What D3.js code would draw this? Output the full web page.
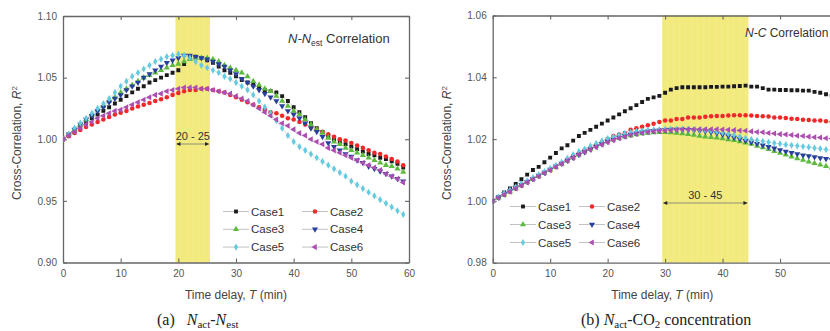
<!DOCTYPE html>
<html><head><meta charset="utf-8">
<script src="https://cdn.jsdelivr.net/npm/d3@7"></script>
<style>body{margin:0;background:#fff} svg{display:block} text{font-family:"Liberation Sans",Arial,sans-serif}</style>
</head><body><svg id="c" width="830" height="331"></svg>
<script>
// ---------- data ----------
const times = [0,1,2,3,4,5,6,7,8,9,10,11,12,13,14,15,16,17,18,19,20,21,22,23,24,25,26,27,28,29,
  30,31,32,33,34,35,36,37,38,39,40,41,42,43,44,45,46,47,48,49,50,51,52,53,54,55,56,57,58,59];
const caseNames = ["Case1","Case2","Case3","Case4","Case5","Case6"];

// (a) N-Nest
const leftCase1 = [1.000,1.003,1.006,1.010,1.013,1.017,1.020,1.023,1.026,1.029,
 1.032,1.035,1.038,1.041,1.043,1.046,1.048,1.050,1.052,1.054,
 1.056,1.061,1.066,1.067,1.066,1.064,1.062,1.059,1.056,1.054,
 1.051,1.048,1.046,1.044,1.042,1.040,1.039,1.038,1.035,1.031,
 1.026,1.022,1.018,1.013,1.009,1.006,1.002,1.000,0.998,0.996,
 0.994,0.992,0.990,0.988,0.987,0.985,0.984,0.982,0.980,0.977];
const leftCase2 = [1.000,1.0025,1.005,1.0075,1.010,1.012,1.014,1.016,1.018,1.020,
 1.0215,1.023,1.025,1.0265,1.028,1.0295,1.031,1.0325,1.034,1.036,
 1.0375,1.039,1.040,1.040,1.041,1.041,1.040,1.039,1.038,1.036,
 1.034,1.032,1.030,1.028,1.026,1.024,1.022,1.021,1.019,1.017,
 1.016,1.014,1.012,1.010,1.008,1.006,1.004,1.002,1.000,0.999,
 0.997,0.995,0.993,0.991,0.989,0.988,0.986,0.984,0.982,0.979];
const leftCase3 = [1.000,1.004,1.008,1.012,1.016,1.020,1.024,1.027,1.031,1.034,
 1.038,1.041,1.044,1.047,1.050,1.052,1.054,1.056,1.058,1.060,
 1.061,1.063,1.065,1.066,1.066,1.066,1.065,1.063,1.060,1.058,
 1.056,1.054,1.051,1.047,1.044,1.041,1.039,1.035,1.031,1.027,
 1.023,1.020,1.016,1.012,1.008,1.005,1.001,0.998,0.996,0.993,
 0.991,0.989,0.987,0.985,0.983,0.981,0.979,0.978,0.976,0.9735];
const leftCase4 = [1.000,1.004,1.008,1.012,1.016,1.019,1.023,1.026,1.030,1.033,
 1.036,1.040,1.043,1.046,1.050,1.053,1.056,1.059,1.062,1.064,
 1.066,1.068,1.068,1.067,1.066,1.065,1.063,1.061,1.059,1.056,
 1.053,1.049,1.046,1.043,1.040,1.037,1.034,1.031,1.027,1.023,
 1.020,1.017,1.013,1.009,1.006,1.002,0.997,0.994,0.991,0.988,
 0.986,0.983,0.981,0.978,0.976,0.974,0.972,0.970,0.968,0.966];
const leftCase5 = [1.000,1.004,1.009,1.013,1.017,1.021,1.025,1.029,1.033,1.038,
 1.043,1.047,1.051,1.054,1.057,1.060,1.063,1.065,1.067,1.068,
 1.069,1.068,1.066,1.063,1.060,1.058,1.056,1.054,1.051,1.049,
 1.046,1.043,1.040,1.036,1.031,1.026,1.021,1.015,1.009,1.003,
 0.998,0.994,0.991,0.988,0.985,0.982,0.979,0.976,0.973,0.970,
 0.966,0.963,0.960,0.957,0.954,0.951,0.948,0.945,0.942,0.939];
const leftCase6 = [1.000,1.003,1.006,1.009,1.012,1.014,1.017,1.019,1.021,1.023,
 1.024,1.026,1.028,1.030,1.032,1.034,1.036,1.037,1.039,1.040,
 1.041,1.042,1.042,1.042,1.041,1.041,1.040,1.039,1.038,1.037,
 1.035,1.033,1.031,1.028,1.025,1.022,1.019,1.016,1.013,1.011,
 1.008,1.005,1.003,1.000,0.998,0.996,0.993,0.991,0.989,0.987,
 0.985,0.983,0.981,0.979,0.977,0.975,0.972,0.970,0.968,0.965];

// (b) N-CO2
const rightCase1 = [1.000,1.0013,1.0027,1.004,1.0055,1.007,1.0085,1.010,1.011,1.0125,
 1.014,1.0155,1.017,1.018,1.0195,1.021,1.022,1.023,1.024,1.025,
 1.026,1.027,1.028,1.029,1.030,1.031,1.032,1.033,1.0335,1.034,
 1.035,1.036,1.0365,1.0368,1.0368,1.0368,1.0368,1.0368,1.0369,1.0369,
 1.037,1.037,1.0371,1.0372,1.0373,1.037,1.037,1.0365,1.036,1.036,
 1.0359,1.0359,1.0358,1.0358,1.0357,1.0357,1.0353,1.035,1.0345,1.034];
const rightCase2 = [1.000,1.001,1.002,1.003,1.004,1.005,1.006,1.007,1.008,1.009,
 1.010,1.011,1.012,1.0135,1.0145,1.0155,1.0165,1.017,1.018,1.019,
 1.020,1.021,1.0215,1.022,1.023,1.0235,1.024,1.0245,1.025,1.0255,
 1.026,1.026,1.0265,1.0265,1.027,1.027,1.027,1.0272,1.0274,1.0275,
 1.0275,1.0276,1.0277,1.0277,1.0277,1.0276,1.0275,1.0274,1.0273,1.027,
 1.027,1.0268,1.0266,1.0265,1.0263,1.0262,1.026,1.026,1.0258,1.0256];
const rightCase3 = [1.000,1.001,1.002,1.003,1.004,1.005,1.006,1.007,1.008,1.009,
 1.010,1.011,1.012,1.013,1.014,1.015,1.0159,1.0168,1.0177,1.0185,
 1.0192,1.0198,1.0203,1.0208,1.0212,1.0215,1.0218,1.022,1.0221,1.0222,
 1.0222,1.0221,1.022,1.0218,1.0216,1.0213,1.021,1.0208,1.0206,1.0204,
 1.0202,1.0199,1.0196,1.0192,1.0188,1.0184,1.0178,1.0173,1.0167,1.0161,
 1.0155,1.0149,1.0143,1.0137,1.0132,1.0127,1.0122,1.0117,1.0112,1.0107];
const rightCase4 = [1.000,1.0011,1.0022,1.0032,1.0042,1.0052,1.0062,1.0072,1.0082,1.0092,
 1.0102,1.0112,1.0121,1.0131,1.014,1.0149,1.0158,1.0167,1.0176,1.0184,
 1.0192,1.0199,1.0205,1.021,1.0215,1.0219,1.0222,1.0225,1.0227,1.0229,
 1.023,1.0231,1.0231,1.0231,1.023,1.0229,1.0227,1.0225,1.0222,1.0219,
 1.0215,1.021,1.0205,1.02,1.0195,1.019,1.0185,1.018,1.0175,1.017,
 1.0165,1.016,1.0156,1.0152,1.0148,1.0145,1.0142,1.0139,1.0136,1.0133];
const rightCase5 = [1.000,1.0013,1.0025,1.0035,1.0045,1.0055,1.0065,1.0075,1.0085,1.0095,
 1.0105,1.0115,1.0125,1.0138,1.015,1.016,1.0168,1.0178,1.0186,1.0194,
 1.0202,1.0208,1.0213,1.0218,1.0222,1.0225,1.0227,1.0229,1.023,1.0231,
 1.0232,1.0232,1.0232,1.0232,1.0232,1.0231,1.023,1.0229,1.0227,1.0224,
 1.0221,1.0217,1.0213,1.0208,1.0203,1.0199,1.0196,1.0193,1.019,1.0187,
 1.0185,1.0182,1.018,1.0178,1.0176,1.0174,1.0171,1.0169,1.0166,1.0164];
const rightCase6 = [1.000,1.001,1.002,1.003,1.004,1.005,1.006,1.007,1.008,1.009,
 1.010,1.011,1.012,1.013,1.014,1.015,1.0158,1.0166,1.0174,1.0182,
 1.019,1.0197,1.0203,1.0208,1.0213,1.0217,1.022,1.0223,1.0225,1.0227,
 1.0228,1.0229,1.023,1.0231,1.0232,1.0232,1.0232,1.0232,1.0232,1.0232,
 1.0231,1.023,1.0229,1.0228,1.0227,1.0225,1.0223,1.0222,1.022,1.0218,
 1.0216,1.0215,1.0213,1.0211,1.021,1.0208,1.0206,1.0205,1.0203,1.0202];

const xTicks = [0,10,20,30,40,50,60];
const leftYTicks = [0.90,0.95,1.00,1.05,1.10];
const rightYTicks = [0.98,1.00,1.02,1.04,1.06];
const leftBand = [19.5,25.5], leftBandLabel = "20 - 25";
const rightBand = [29.5,44.5], rightBandLabel = "30 - 45";

// ---------- styling ----------
const caseColors = ["#1b1b1b","#f02828","#5cbb3c","#28409c","#62cbdf","#ad4db2"];
const caseSymbols = [
  {t:d3.symbolSquare, s:15, r:0},
  {t:d3.symbolCircle, s:16, r:0},
  {t:d3.symbolTriangle, s:16, r:0},
  {t:d3.symbolTriangle, s:16, r:180},
  {t:d3.symbolDiamond, s:15, r:0},
  {t:d3.symbolTriangle, s:16, r:-90}
];

const svg = d3.select("#c");
const defs = svg.append("defs");
defs.append("marker").attr("id","ah").attr("viewBox","0 0 10 10").attr("refX",10).attr("refY",5)
  .attr("markerWidth",7).attr("markerHeight",5).attr("orient","auto-start-reverse")
  .append("path").attr("d","M0,0L10,5L0,10z").attr("fill","#222");

function panel(cfg){
  const x = d3.scaleLinear().domain([0,60]).range(cfg.xr);
  const y = d3.scaleLinear().domain(cfg.yd).range(cfg.yr);
  const g = svg.append("g");
  const clipId = "clip"+cfg.id;
  defs.append("clipPath").attr("id",clipId).append("rect")
    .attr("x",cfg.xr[0]).attr("y",cfg.yr[1]-4).attr("width",cfg.xr[1]-cfg.xr[0]).attr("height",cfg.yr[0]-cfg.yr[1]+8);
  // band
  const bx0 = x(cfg.band[0]), bx1 = x(cfg.band[1]);
  g.append("rect").attr("x",bx0).attr("y",cfg.yr[1]).attr("width",bx1-bx0).attr("height",cfg.yr[0]-cfg.yr[1])
    .attr("fill","#f3ea7e");
  const stripes = d3.range(cfg.band[0]+0.9, cfg.band[1]-0.3, 1.05);
  g.selectAll(".st").data(stripes).join("line")
    .attr("x1",d=>x(d)).attr("x2",d=>x(d)).attr("y1",cfg.yr[1]).attr("y2",cfg.yr[0])
    .attr("stroke","#fff").attr("stroke-opacity",0.15).attr("stroke-width",0.7);
  // axes
  const ax = (a)=>a.tickSizeOuter(0).tickSizeInner(-4);
  const labelTicks = xTicks.filter(v=>x(v)<=cfg.xVisMax);
  const bottom = g.append("g").attr("transform",`translate(0,${cfg.yr[0]})`)
    .call(ax(d3.axisBottom(x).tickValues(labelTicks).tickFormat(d3.format("d")).tickPadding(7)));
  const top = g.append("g").attr("transform",`translate(0,${cfg.yr[1]})`)
    .call(ax(d3.axisTop(x).tickValues(labelTicks).tickFormat("")));
  const left = g.append("g").attr("transform",`translate(${cfg.xr[0]},0)`)
    .call(ax(d3.axisLeft(y).tickValues(cfg.yTicks).tickFormat(d3.format(".2f")).tickPadding(6)));
  const right = g.append("g").attr("transform",`translate(${cfg.xr[1]},0)`)
    .call(ax(d3.axisRight(y).tickValues(cfg.yTicks).tickFormat("")));
  [bottom,top,left,right].forEach(a=>{
    a.select(".domain").attr("stroke","#666").attr("stroke-width",1.3);
    a.selectAll(".tick line").attr("stroke","#666").attr("stroke-width",1.1);
    a.selectAll("text").attr("fill","#555").style("font-size","10px").style("font-family","Liberation Sans, Arial, sans-serif");
  });
  // series
  const sg = g.append("g").attr("clip-path",`url(#${clipId})`);
  const line = d3.line().x((d,i)=>x(times[i])).y(d=>y(d));
  cfg.series.forEach((vals,k)=>{
    sg.append("path").attr("d",line(vals)).attr("fill","none").attr("stroke","#cfcfcf").attr("stroke-width",0.8);
  });
  cfg.series.forEach((vals,k)=>{
    const sym = d3.symbol().type(caseSymbols[k].t).size(caseSymbols[k].s);
    sg.selectAll(".m"+k).data(vals).join("path")
      .attr("d",sym).attr("fill",caseColors[k])
      .attr("transform",(d,i)=>`translate(${x(times[i])},${y(d)}) rotate(${caseSymbols[k].r})`);
  });
  // band annotation
  g.append("text").attr("x",(bx0+bx1)/2).attr("y",cfg.annY).attr("text-anchor","middle")
    .style("font-size","11px").attr("fill","#333").text(cfg.bandLabel);
  g.append("line").attr("x1",bx0+1).attr("x2",bx1-1).attr("y1",cfg.annY+4).attr("y2",cfg.annY+4)
    .attr("stroke","#777").attr("stroke-width",0.8)
    .attr("marker-start","url(#ah)").attr("marker-end","url(#ah)");
  // legend
  caseNames.forEach((nm,k)=>{
    const col = k%2, row = Math.floor(k/2);
    const lx = cfg.leg[0] + col*cfg.legDx, ly = cfg.leg[1] + row*cfg.legDy;
    g.append("line").attr("x1",lx).attr("x2",lx+26).attr("y1",ly).attr("y2",ly)
      .attr("stroke","#bbb").attr("stroke-width",0.9);
    const sym = d3.symbol().type(caseSymbols[k].t).size(caseSymbols[k].s);
    g.append("path").attr("d",sym).attr("fill",caseColors[k])
      .attr("transform",`translate(${lx+13},${ly}) rotate(${caseSymbols[k].r})`);
    g.append("text").attr("x",lx+28).attr("y",ly+4).style("font-size","11.5px").attr("fill","#333").text(nm);
  });
  // axis titles
  g.append("text").attr("x",(cfg.xr[0]+cfg.xrVis)/2).attr("y",299).attr("text-anchor","middle")
    .style("font-size","12px").attr("fill","#444")
    .call(t=>{t.append("tspan").text("Time delay, ");t.append("tspan").style("font-style","italic").text("T");t.append("tspan").text(" (min)");});
  g.append("text").attr("transform",`translate(${cfg.ytX},143) rotate(-90)`).attr("text-anchor","middle")
    .style("font-size","12px").attr("fill","#444")
    .call(t=>{t.append("tspan").text("Cross-Correlation, ");t.append("tspan").style("font-style","italic").text("R");
      t.append("tspan").attr("dy",-4).style("font-size","8px").text("2");});
  return {x,y,g};
}

const L = panel({id:"L", xr:[63,409], xrVis:409, xVisMax:420, yd:[0.90,1.10], yr:[262.5,16], yTicks:leftYTicks,
  series:[leftCase1,leftCase2,leftCase3,leftCase4,leftCase5,leftCase6],
  band:leftBand, bandLabel:leftBandLabel, annY:140, leg:[223,211.5], legDx:79, legDy:17.8, ytX:21});
const R = panel({id:"R", xr:[492.7,837.5], xrVis:832, xVisMax:820, yd:[0.98,1.06], yr:[262.7,15.5], yTicks:rightYTicks,
  series:[rightCase1,rightCase2,rightCase3,rightCase4,rightCase5,rightCase6],
  band:rightBand, bandLabel:rightBandLabel, annY:199, leg:[510,206.5], legDx:69, legDy:18, ytX:451});

// inner titles
svg.append("text").attr("x",288).attr("y",43).style("font-size","13px").attr("fill","#333")
  .call(t=>{t.append("tspan").style("font-style","italic").text("N-N");
    t.append("tspan").attr("dy",3).style("font-size","8.5px").text("est");
    t.append("tspan").attr("dy",-3).text(" Correlation");});
svg.append("text").attr("x",745).attr("y",37).style("font-size","12px").attr("fill","#333")
  .call(t=>{t.append("tspan").style("font-style","italic").text("N-C");
    t.append("tspan").text(" Correlation");});

// captions
const serif = "Liberation Serif, Times New Roman, serif";
svg.append("text").attr("x",157).attr("y",325).style("font-family",serif).style("font-size","16px").attr("fill","#222")
  .call(t=>{t.append("tspan").text("(a)\u00a0\u00a0\u00a0");
    t.append("tspan").style("font-style","italic").text("N");
    t.append("tspan").attr("dy",3).style("font-size","11px").text("act");
    t.append("tspan").attr("dy",-3).text("-");
    t.append("tspan").style("font-style","italic").text("N");
    t.append("tspan").attr("dy",3).style("font-size","11px").text("est");});
svg.append("text").attr("x",581).attr("y",325).style("font-family",serif).style("font-size","16px").attr("fill","#222")
  .call(t=>{t.append("tspan").text("(b) ");
    t.append("tspan").style("font-style","italic").text("N");
    t.append("tspan").attr("dy",3).style("font-size","11px").text("act");
    t.append("tspan").attr("dy",-3).text("-CO");
    t.append("tspan").attr("dy",3).style("font-size","11px").text("2");
    t.append("tspan").attr("dy",-3).text(" concentration");});
</script></body></html>
